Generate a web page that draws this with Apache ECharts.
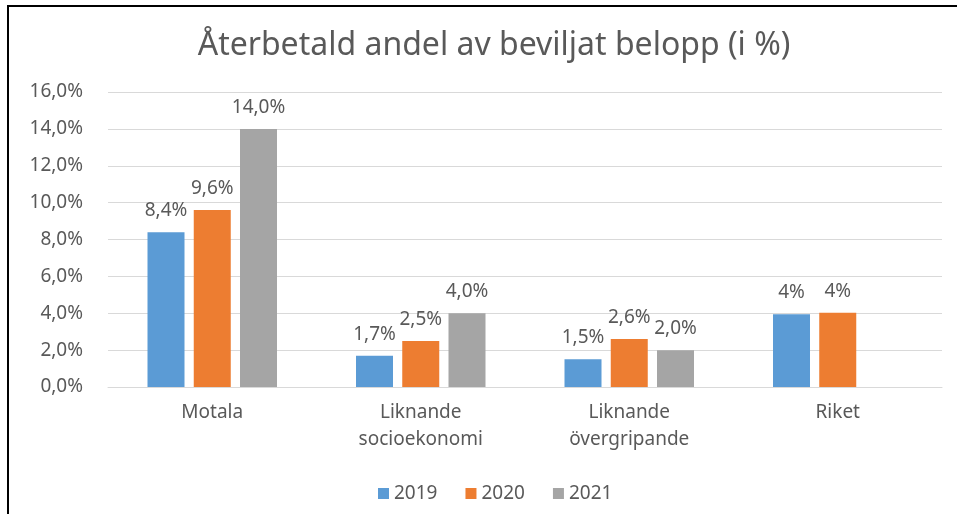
<!DOCTYPE html>
<html>
<head>
<meta charset="utf-8">
<script src="https://cdn.jsdelivr.net/npm/echarts@6/dist/echarts.min.js"></script>
<style>
  html, body { margin: 0; padding: 0; background: #fff; }
  #frame { position: absolute; left: 7px; top: 5px; width: 960px; height: 520px;
           border-left: 2px solid #000; border-top: 2px solid #000; }
  #chart { position: absolute; left: 0; top: 0; width: 957px; height: 514px; }
</style>
</head>
<body>
<div id="frame"></div>
<div id="chart"></div>
<script>
// data
const categories = ['Motala', 'Liknande\nsocioekonomi', 'Liknande\növergripande', 'Riket']
const labelDecimals = [1, 1, 1, 0]
const years = ['2019', '2020', '2021']
const values2019 = [8.4, 1.7, 1.5, 3.94]
const values2020 = [9.6, 2.5, 2.6, 4.03]
const values2021 = [14.0, 4.0, 2.0, null]
const yTicks = [0, 2, 4, 6, 8, 10, 12, 14, 16]

const colors = ['#5b9bd5', '#ed7d31', '#a5a5a5']
const font = 'Noto Sans'

const fmt = (v, d) => v.toFixed(d).replace('.', ',') + '%'

const mkSeries = (name, data, i) => ({
  name,
  type: 'bar',
  data,
  barWidth: 37,
  barGap: '25%',
  itemStyle: { color: colors[i] },
  label: {
    show: true,
    position: 'top',
    distance: 12,
    color: '#595959',
    fontFamily: font,
    fontSize: 19,
    formatter: p => fmt(p.value, labelDecimals[p.dataIndex]),
  },
})

const chart = echarts.init(document.getElementById('chart'))
chart.setOption({
  animation: false,
  title: {
    text: 'Återbetald andel av beviljat belopp (i %)',
    left: 489,
    textAlign: 'center',
    top: 25,
    textStyle: { color: '#595959', fontFamily: font, fontSize: 32, fontWeight: 'normal' },
  },
  grid: { left: 108, right: 15, top: 92, bottom: 127 },
  legend: {
    top: 479,
    left: 373,
    itemWidth: 11,
    itemHeight: 11,
    itemGap: 28,
    icon: 'rect',
    textStyle: { color: '#595959', fontFamily: font, fontSize: 19 },
    data: years,
  },
  xAxis: {
    type: 'category',
    data: categories,
    axisLine: { lineStyle: { color: '#d9d9d9' } },
    axisTick: { show: false },
    axisLabel: { color: '#595959', fontFamily: font, fontSize: 19, lineHeight: 27, margin: 12 },
  },
  yAxis: {
    type: 'value',
    min: yTicks[0],
    max: yTicks[yTicks.length - 1],
    interval: 2,
    axisLine: { show: false },
    axisTick: { show: false },
    splitLine: { lineStyle: { color: '#d9d9d9' } },
    axisLabel: { color: '#595959', fontFamily: font, fontSize: 19, margin: 25, formatter: v => fmt(v, 1) },
  },
  series: [
    mkSeries(years[0], values2019, 0),
    mkSeries(years[1], values2020, 1),
    mkSeries(years[2], values2021, 2),
  ],
})
</script>
</body>
</html>
